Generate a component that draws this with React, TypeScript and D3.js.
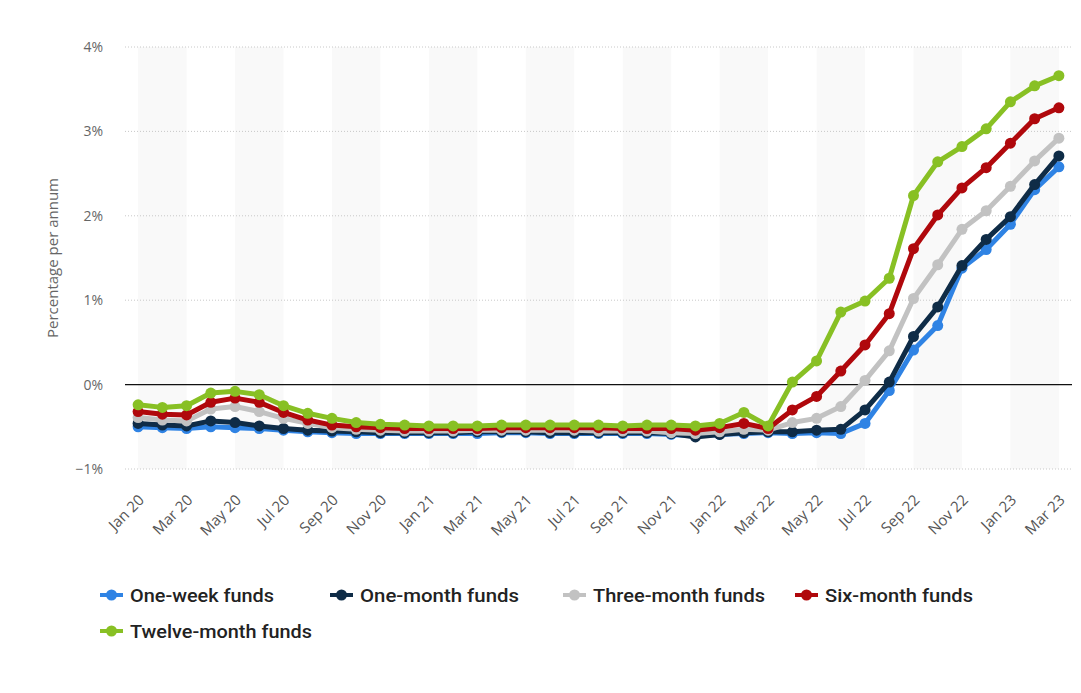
import React from "react";
import * as d3 from "d3";

const months = [
  "Jan 20","Feb 20","Mar 20","Apr 20","May 20","Jun 20","Jul 20","Aug 20","Sep 20","Oct 20","Nov 20","Dec 20",
  "Jan 21","Feb 21","Mar 21","Apr 21","May 21","Jun 21","Jul 21","Aug 21","Sep 21","Oct 21","Nov 21","Dec 21",
  "Jan 22","Feb 22","Mar 22","Apr 22","May 22","Jun 22","Jul 22","Aug 22","Sep 22","Oct 22","Nov 22","Dec 22",
  "Jan 23","Feb 23","Mar 23",
];

const oneWeek = [
  -0.50,-0.51,-0.52,-0.50,-0.51,-0.52,-0.54,-0.56,-0.57,-0.58,-0.58,-0.58,
  -0.58,-0.58,-0.58,-0.57,-0.57,-0.58,-0.58,-0.58,-0.58,-0.58,-0.59,-0.61,
  -0.59,-0.58,-0.57,-0.58,-0.57,-0.58,-0.46,-0.07,0.41,0.70,1.38,1.60,
  1.90,2.31,2.58,
];
const oneMonth = [
  -0.46,-0.48,-0.49,-0.43,-0.45,-0.49,-0.52,-0.54,-0.55,-0.56,-0.57,-0.57,
  -0.57,-0.57,-0.56,-0.56,-0.56,-0.57,-0.57,-0.57,-0.57,-0.57,-0.58,-0.62,
  -0.59,-0.57,-0.56,-0.56,-0.54,-0.53,-0.30,0.03,0.57,0.92,1.41,1.72,
  1.99,2.37,2.71,
];
const threeMonth = [
  -0.39,-0.42,-0.43,-0.29,-0.26,-0.32,-0.40,-0.46,-0.51,-0.53,-0.54,-0.55,
  -0.55,-0.55,-0.54,-0.54,-0.54,-0.54,-0.54,-0.55,-0.55,-0.55,-0.57,-0.58,
  -0.56,-0.53,-0.54,-0.45,-0.40,-0.26,0.05,0.40,1.02,1.42,1.84,2.06,
  2.35,2.65,2.92,
];
const sixMonth = [
  -0.32,-0.35,-0.36,-0.21,-0.16,-0.21,-0.33,-0.42,-0.48,-0.50,-0.51,-0.52,
  -0.52,-0.52,-0.52,-0.51,-0.51,-0.51,-0.51,-0.51,-0.52,-0.52,-0.52,-0.54,
  -0.51,-0.46,-0.52,-0.30,-0.14,0.16,0.47,0.84,1.61,2.01,2.33,2.57,
  2.86,3.15,3.28,
];
const twelveMonth = [
  -0.24,-0.27,-0.25,-0.10,-0.08,-0.12,-0.25,-0.34,-0.40,-0.45,-0.47,-0.48,
  -0.49,-0.49,-0.49,-0.48,-0.48,-0.48,-0.48,-0.48,-0.49,-0.48,-0.48,-0.49,
  -0.46,-0.33,-0.49,0.03,0.28,0.86,0.99,1.26,2.24,2.64,2.82,3.03,
  3.35,3.54,3.66,
];

const seriesNames = ["One-week funds","One-month funds","Three-month funds","Six-month funds","Twelve-month funds"];
const seriesValues = [oneWeek, oneMonth, threeMonth, sixMonth, twelveMonth];
const seriesColors = ["#2f83e4","#0f2c47","#c2c2c2","#b0080c","#88c024"];
const yTicks = [-1, 0, 1, 2, 3, 4];

const W = 1081, H = 693;
const plotLeft = 126, plotRight = 1071, plotTop = 47, plotBottom = 469;

export default function App() {
  const x = d3.scalePoint<string>().domain(months).range([plotLeft, plotRight]).padding(0.5);
  const y = d3.scaleLinear().domain([-1, 4]).range([plotBottom, plotTop]);
  const line = d3.line<number>().x((_, i) => x(months[i])!).y((d) => y(d));

  const bands: number[] = [];
  for (let i = 0; i + 2 < months.length; i += 4) bands.push(i);

  const font = "'Open Sans', 'DejaVu Sans', sans-serif";

  const legendItems = [
    { i: 0, x: 100, y: 595, w: 144 },
    { i: 1, x: 330, y: 595, w: 159 },
    { i: 2, x: 563, y: 595, w: 172 },
    { i: 3, x: 795, y: 595, w: 148 },
    { i: 4, x: 100, y: 631, w: 182 },
  ];

  return (
    <svg width={W} height={H} style={{ position: "absolute", left: 0, top: 0, background: "#fff" }}>
      {bands.map((b) => (
        <rect key={b} x={x(months[b])!} y={plotTop} width={x(months[b + 2])! - x(months[b])!}
          height={plotBottom - plotTop} fill="#f9f9f9" />
      ))}
      {yTicks.filter((t) => t !== 0).map((t) => (
        <line key={t} x1={plotLeft - 1} x2={plotRight + 1} y1={y(t)} y2={y(t)}
          stroke="#c8c8c8" strokeWidth={1} strokeDasharray="1,2" />
      ))}
      <line x1={plotLeft - 1} x2={plotRight + 1} y1={y(0)} y2={y(0)} stroke="#111" strokeWidth={1.2} />
      {yTicks.map((t) => (
        <text key={t} x={103} y={y(t) + 5} textAnchor="end" fontFamily={font} fontSize={14} fill="#666">
          {t < 0 ? `\u2212${Math.abs(t)}%` : `${t}%`}
        </text>
      ))}
      <text transform={`translate(58, ${(plotTop + plotBottom) / 2}) rotate(-90)`} textAnchor="middle"
        fontFamily={font} fontSize={15} fill="#666">Percentage per annum</text>
      {months.map((m, i) => i % 2 === 0 ? (
        <text key={m} transform={`translate(${x(m)! + 7}, 501) rotate(-45)`} textAnchor="end"
          fontFamily={font} fontSize={15} fill="#555">{m}</text>
      ) : null)}
      {seriesValues.map((vals, s) => (
        <g key={s}>
          <path d={line(vals)!} fill="none" stroke={seriesColors[s]} strokeWidth={5} strokeLinejoin="round" />
          {vals.map((v, i) => (
            <circle key={i} cx={x(months[i])!} cy={y(v)} r={5.5} fill={seriesColors[s]} />
          ))}
        </g>
      ))}
      {legendItems.map((it) => (
        <g key={it.i}>
          <line x1={it.x} x2={it.x + 23} y1={it.y} y2={it.y} stroke={seriesColors[it.i]} strokeWidth={4} />
          <circle cx={it.x + 11.5} cy={it.y} r={5.5} fill={seriesColors[it.i]} />
          <text x={it.x + 30} y={it.y + 6.5} fontFamily="'Roboto', sans-serif" textLength={it.w}
            lengthAdjust="spacingAndGlyphs" fontWeight={500} fontSize={19} fill="#222">{seriesNames[it.i]}</text>
        </g>
      ))}
    </svg>
  );
}
